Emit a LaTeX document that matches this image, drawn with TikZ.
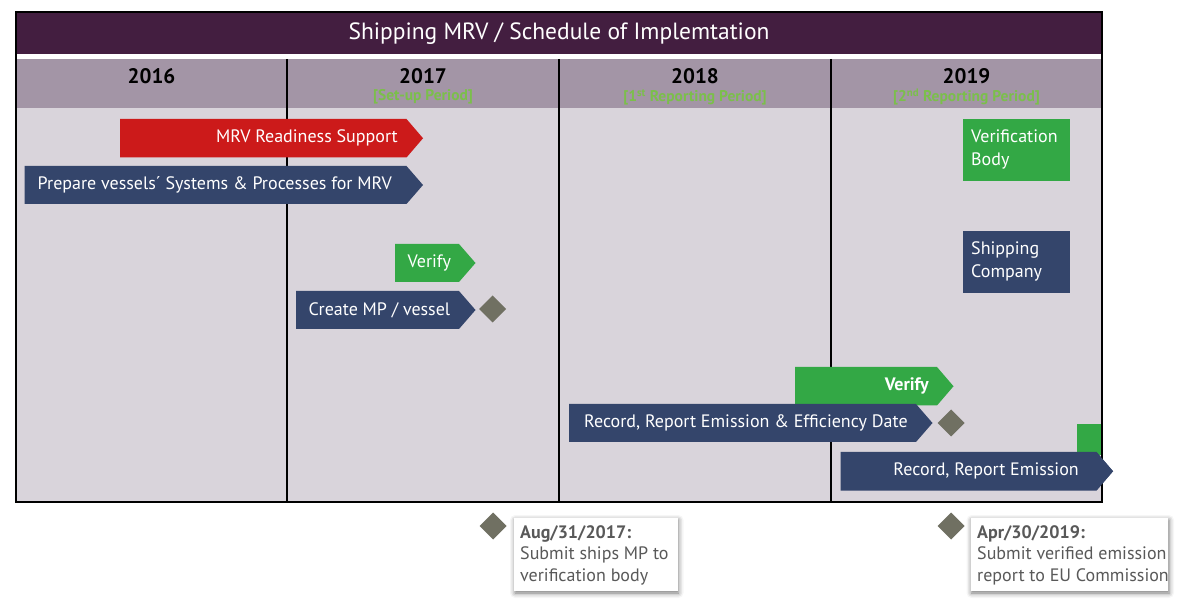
\documentclass[tikz,border=0pt]{standalone}
\usepackage{fontspec}
\setmainfont{PT Sans}
\usetikzlibrary{shadows.blur}
\definecolor{titlec}{HTML}{431E40}
\definecolor{headc}{HTML}{A395A6}
\definecolor{bodyc}{HTML}{D9D4DB}
\definecolor{redc}{HTML}{CC1A1A}
\definecolor{bluec}{HTML}{34456B}
\definecolor{greenc}{HTML}{33A845}
\definecolor{diac}{HTML}{707062}
\definecolor{subc}{HTML}{7BBF4B}
\definecolor{calc}{HTML}{595959}
\newcommand\mrvbar[5]{\fill[#5] (#1,#3) -- (#2,#3) -- ({#2+16.5},{(#3+#4)/2}) -- (#2,#4) -- (#1,#4) -- cycle;}
\newcommand\mrvdia[2]{\fill[diac] (#1-13.5,#2) -- (#1,#2-13.5) -- (#1+13.5,#2) -- (#1,#2+13.5) -- cycle;}
\begin{document}
\begin{tikzpicture}[x=1pt,y=-1pt,
  bartext/.style={inner sep=0pt, text=white, font=\fontsize{18}{21}\selectfont},
  yeartext/.style={inner sep=0pt, text=black, font=\fontsize{21}{25}\selectfont\bfseries},
  subtext/.style={inner sep=0pt, text=subc, font=\fontsize{15.5}{18}\selectfont\bfseries},
  boxtext/.style={inner sep=0pt, text=white, align=left, font=\fontsize{18}{22.5}\selectfont},
  caltext/.style={inner sep=0pt, text=calc, align=left, font=\fontsize{18}{21.5}\selectfont},
  callbox/.style={fill=white, blur shadow={shadow xshift=1pt, shadow yshift=-2pt, shadow blur radius=5pt, shadow opacity=55}},
  divline/.style={line width=2pt, black}]
\useasboundingbox (0,0) rectangle (1181,601);
% background bands
\fill[bodyc] (16,108) rectangle (1102,502);
\fill[headc] (16,59) rectangle (1102,108);
\fill[white] (16,54) rectangle (1102,59);
\fill[titlec] (16,12) rectangle (1102,54);
\node[inner sep=0pt, text=white, font=\fontsize{23.5}{28}\selectfont] (title) at (559,34) {Shipping MRV / Schedule of Implemtation};
% dividers
\draw[divline] (287,59) -- (287,502);
\draw[divline] (559,59) -- (559,502);
\draw[divline] (831,59) -- (831,502);
% years
\node[yeartext] (y16) at (151.5,76) {2016};
\node[yeartext] (y17) at (423,76) {2017};
\node[yeartext] (y18) at (695,76) {2018};
\node[yeartext] (y19) at (966.5,76) {2019};
\node[subtext] (s17) at (423,97) {[Set-up Period]};
\node[subtext] (s18) at (695,97) {[1\textsuperscript{st} Reporting Period]};
\node[subtext] (s19) at (966.5,97) {[2\textsuperscript{nd} Reporting Period]};
% bars
\mrvbar{120}{406.5}{119}{157.5}{redc}
\node[bartext, anchor=east] (mrvrs) at (398,138) {MRV Readiness Support};
\mrvbar{24.5}{406.5}{166}{204}{bluec}
\node[bartext, anchor=west] (prep) at (37.5,185) {Prepare vessels´ Systems \& Processes for MRV};
\mrvbar{395}{459}{244}{282}{greenc}
\node[bartext, anchor=west] (ver17) at (407.5,263) {Verify};
\mrvbar{296}{459}{291}{329}{bluec}
\node[bartext, anchor=west] (create) at (308.5,310) {Create MP / vessel};
\mrvdia{492.5}{309}
\mrvbar{795}{937}{367}{405.5}{greenc}
\node[bartext, anchor=east, font=\fontsize{18}{21}\selectfont\bfseries] (ver18) at (929,386) {Verify};
\mrvbar{569}{916}{404}{442}{bluec}
\node[bartext, anchor=west] (receff) at (584,422.5) {Record, Report Emission \& Efficiency Date};
\mrvdia{951}{423}
\fill[greenc] (1077,424) rectangle (1102,455);
\mrvbar{840.5}{1096.5}{452}{490.5}{bluec}
\node[bartext, anchor=east] (recem) at (1079,471) {Record, Report Emission};
% legend boxes
\fill[greenc] (962.5,119) rectangle (1069.5,181.5);
\node[boxtext, anchor=west] (vb) at (971,149.5) {Verification\\Body};
\fill[bluec] (962.5,231) rectangle (1069.5,293.5);
\node[boxtext, anchor=west] (sc) at (971,261.5) {Shipping\\Company};
% outer frame
\draw[line width=2.5pt, black] (16,12) rectangle (1102,502);
% tip of last bar over frame
\fill[bluec] (1096.5,452) -- (1113,471.25) -- (1096.5,490.5) -- cycle;
% callouts
\mrvdia{493}{526}
\fill[callbox] (514,518) rectangle (677.5,591);
\node[caltext, anchor=west] (c1) at (520,555) {\textbf{Aug/31/2017:}\\Submit ships MP to\\verification body};
\mrvdia{951}{526}
\fill[callbox] (970.5,518) rectangle (1168,591);
\node[caltext, anchor=west] (c2) at (977,555) {\textbf{Apr/30/2019:}\\Submit verified emission\\report to EU Commission};
\end{tikzpicture}
\end{document}
